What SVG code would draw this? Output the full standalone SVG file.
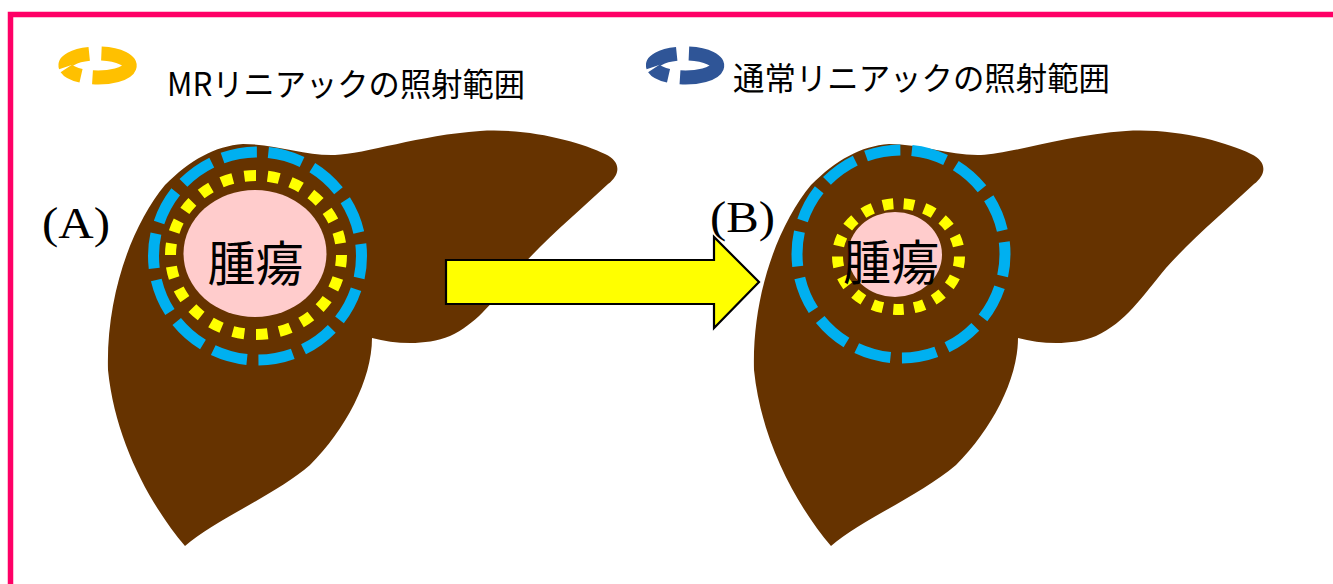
<svg xmlns="http://www.w3.org/2000/svg" width="1333" height="584" viewBox="0 0 1333 584">
  <style>
    .frame { fill: none; stroke: #FF0066; stroke-width: 5.5; }
    .legend-text { font-family: "Noto Sans CJK JP", "Noto Sans", sans-serif; font-size: 32px; fill: #000; }
    .liver { fill: #663300; }
    .tumor { fill: #FFCCCC; }
    .tumor-text { font-family: "Noto Sans CJK JP", "Noto Sans", sans-serif; font-size: 48px; fill: #000; text-anchor: middle; }
    .ring-std { fill: none; stroke: #00B0F0; stroke-width: 11; stroke-dasharray: 35 11.675; stroke-dashoffset: 12.8; }
    .ring-mr { fill: none; stroke: #FFFF00; stroke-width: 11; stroke-dasharray: 0.5 0.5; }
    .label { font-family: "Liberation Serif", "Times New Roman", serif; font-size: 44px; fill: #000; }
    .arrow { fill: #FFFF00; stroke: #000; stroke-width: 2.2; stroke-linejoin: miter; }
  </style>
  <defs>
    <path id="liver-shape" d="M 243,144 C 275,144 305,156 335,155 C 365,154 420,135 480,131 C 530,128 580,142 605,154 C 622,162 620,175 608,184 C 580,210 545,240 520,268 C 495,298 480,322 450,336 C 425,346 395,344 372,338 C 372,380 345,430 310,465 C 275,495 215,520 185,546 C 150,505 115,440 108,370 C 106,295 132,225 165,185 C 190,160 215,146 243,144 Z"/>
    <!-- broken elliptical ring used as legend swatch, centred on the origin -->
    <g id="ring-icon" fill="none" stroke-width="14">
      <path d="M 3.9,-11.91 A 32 12 0 1 1 -5.0,11.85"/>
      <path d="M -16.48,10.29 A 32 12 0 0 1 -31.05,2.90"/>
      <path d="M -31.76,1.46 A 32 12 0 0 1 -8.28,-11.59"/>
    </g>
  </defs>

  <rect class="frame" x="10.5" y="14.5" width="1400" height="700"/>

  <!-- legend -->
  <g id="legend-mr">
    <use href="#ring-icon" stroke="#FFC000" transform="translate(97.5,65.5)"/>
    <text class="legend-text" x="167" y="96" textLength="358" lengthAdjust="spacingAndGlyphs">MRリニアックの照射範囲</text>
  </g>
  <g id="legend-std">
    <use href="#ring-icon" stroke="#2F5597" transform="translate(685,65.5)"/>
    <text class="legend-text" x="733" y="90" textLength="377" lengthAdjust="spacingAndGlyphs">通常リニアックの照射範囲</text>
  </g>

  <!-- (A): irradiation fields before -->
  <g id="liver-a">
    <use href="#liver-shape" class="liver"/>
    <ellipse class="tumor" cx="255" cy="253.5" rx="71.5" ry="63.5"/>
    <circle class="ring-std" cx="257.5" cy="256" r="104"/>
    <ellipse class="ring-mr" cx="256" cy="255" rx="85.5" ry="79.5" pathLength="22"/>
    <text class="tumor-text" x="255.5" y="281">腫瘍</text>
  </g>

  <!-- (B): irradiation fields after -->
  <g id="liver-b">
    <use href="#liver-shape" class="liver" transform="translate(646,0)"/>
    <ellipse class="tumor" cx="895" cy="254.5" rx="47" ry="42.5"/>
    <circle class="ring-std" cx="901" cy="254" r="104"/>
    <ellipse class="ring-mr" cx="898.5" cy="256.5" rx="61" ry="53" pathLength="17"/>
    <text class="tumor-text" x="891" y="280">腫瘍</text>
  </g>

  <g id="connectors">
    <polygon class="arrow" points="446,260 714,260 714,237 759,282 714,328 714,304 446,304"/>
  </g>

  <g id="label-a">
    <text class="label" x="42" y="238" textLength="68" lengthAdjust="spacingAndGlyphs">(A)</text>
  </g>
  <g id="label-b">
    <text class="label" x="710" y="232" textLength="65" lengthAdjust="spacingAndGlyphs">(B)</text>
  </g>
</svg>
